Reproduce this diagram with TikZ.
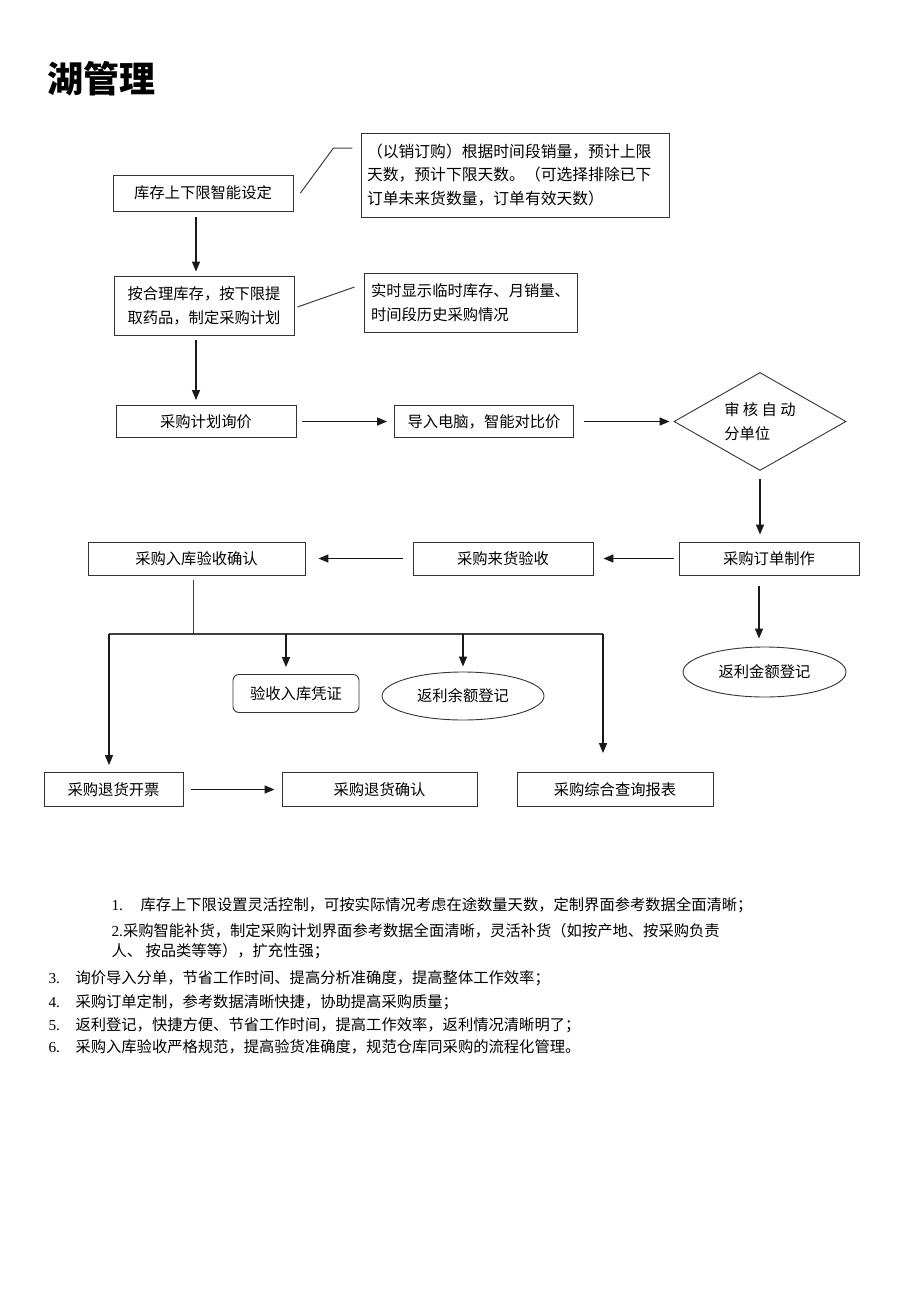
\documentclass[tikz,border=0pt]{standalone}
\usepackage{fontspec}
\setmainfont{Liberation Serif}
\newfontfamily\cjk{Noto Sans CJK SC}
\usetikzlibrary{positioning,shapes.geometric,arrows.meta}

\newcommand\cnfont{\cjk\fontsize{15.3}{24}\selectfont}
\newcommand\notefont{\cjk\fontsize{15.8}{23.5}\selectfont}
\newcommand\numfont{\fontsize{15.3}{20}\selectfont}

\begin{document}
\begin{tikzpicture}[x=1pt, y=-1pt,
	box/.style={draw=black!80, line width=0.9pt, rectangle, inner sep=0pt, align=center, font=\cnfont},
	note/.style={box, align=left},
	oval/.style={draw=black!80, line width=0.9pt, ellipse, inner sep=0pt, font=\cnfont},
	decide/.style={draw=black!80, line width=0.9pt, diamond, aspect=1.76, inner sep=0pt, align=left, font=\cnfont},
	arr/.style={-{Triangle[length=10pt,width=8pt]}, line width=1.5pt, black!90},
	link/.style={line width=1pt, black!75}]

	\fill[white] (0,0) rectangle (920,1302);
	\useasboundingbox (0,0) rectangle (920,1302);

%title
	\node[anchor=west, font=\cjk\bfseries\fontsize{36}{40}\selectfont] (title) at (44,79) {湖管理};

%upper chain
	\node[box, minimum width=180, minimum height=36] (limit) at (203,193) {库存上下限智能设定};
	\node[note, text width=296pt, inner xsep=6pt, minimum height=84, font=\notefont] (note1) at (515,175)
		{（以销订购）根据时间段销量，预计上限\\天数，预计下限天数。（可选择排除已下\\订单未来货数量，订单有效天数）};
	\node[box, minimum width=180, minimum height=59] (plan) at (204,305.5) {按合理库存，按下限提\\取药品，制定采购计划};
	\node[note, minimum width=213, minimum height=59] (note2) at (470.5,302.5) {实时显示临时库存、月销量、\\时间段历史采购情况};

	\node[box, minimum width=180, minimum height=32] (inquiry) at (206,421.5) {采购计划询价};
	\node[box, minimum width=179, minimum height=32] (compare) at (484,421.5) {导入电脑，智能对比价};
	\node[decide, minimum width=172, minimum height=98] (audit) at (760,421.5) {审 核 自 动\\分单位};

%middle row
	\node[box, minimum width=180, minimum height=33] (order) at (769,558.5) {采购订单制作};
	\node[box, minimum width=180, minimum height=33] (arrive) at (503,558.5) {采购来货验收};
	\node[box, minimum width=217, minimum height=33] (stockin) at (196.5,558.5) {采购入库验收确认};
	\node[oval, minimum width=163, minimum height=50] (rebateA) at (764.5,672) {返利金额登记};

	\node[box, rounded corners=6pt, minimum width=126, minimum height=38] (voucher) at (296,693.5) {验收入库凭证};
	\node[oval, minimum width=162, minimum height=48] (rebateB) at (463,696) {返利余额登记};

%bottom row
	\node[box, minimum width=139, minimum height=34] (refundbill) at (113.5,789.5) {采购退货开票};
	\node[box, minimum width=195, minimum height=34] (refundok) at (379.5,789.5) {采购退货确认};
	\node[box, minimum width=196, minimum height=34] (report) at (615,789.5) {采购综合查询报表};

%notes
	\draw[link] ([xshift=7pt]limit.east) -- ++(33,-45) -- ++(19,0);
	\draw[link] ([xshift=3pt,yshift=-1.5pt]plan.east) -- ([xshift=-9pt,yshift=15.5pt]note2.west);

%arrows
	\draw[arr, shorten <=6pt, shorten >=4pt] ([xshift=-7pt]limit.south) -- ([xshift=-8pt]plan.north);
	\draw[arr, shorten <=5pt, shorten >=5pt] ([xshift=-8pt]plan.south) -- ([xshift=-10pt]inquiry.north);
	\draw[arr, shorten <=6pt, shorten >=7pt] (inquiry) -- (compare);
	\draw[arr, shorten <=10pt, shorten >=4pt] (compare) -- (audit);
	\draw[arr, shorten <=8pt, shorten >=7pt] (audit.south) -- (audit.south |- order.north);
	\draw[arr, shorten <=5pt, shorten >=10pt] (order.west) -- (order.west -| arrive.east);
	\draw[arr, shorten <=10pt, shorten >=13pt] (arrive.west) -- (arrive.west -| stockin.east);
	\draw[arr, shorten <=11pt, shorten >=8pt] ([xshift=-10pt]order.south) -- ([xshift=-5.5pt]rebateA.north);

%split
	\coordinate (split) at (193,634);
	\coordinate (brL) at (109,634);
	\coordinate (brR) at (603,634);
	\draw[link, shorten <=5pt] ([xshift=-3.5pt]stockin.south) -- (split);
	\draw[link, line width=1.3pt] (brL) -- (brR);
	\draw[arr, shorten >=7pt] (brL) -- (brL |- refundbill.north);
	\draw[arr, shorten >=7pt] ([xshift=-10pt]voucher.north |- brL) -- ([xshift=-10pt]voucher.north);
	\draw[arr, shorten >=5pt] (rebateB.north |- brL) -- (rebateB.north);
	\draw[arr, shorten >=19pt] (brR) -- (brR |- report.north);
	\draw[arr, shorten <=8pt, shorten >=7pt] (refundbill) -- (refundok);

%text below
	\node[anchor=base west, font=\numfont] (num1) at (108,910.5) {1.};
	\node[anchor=base west, font=\cnfont] (item1) at (137,910.5) {库存上下限设置灵活控制，可按实际情况考虑在途数量天数，定制界面参考数据全面清晰；};
	\node[anchor=base west, font=\numfont] (item2) at (108,936.5) {2.{\cnfont 采购智能补货，制定采购计划界面参考数据全面清晰，灵活补货（如按产地、按采购负责}};
	\node[anchor=base west, font=\cnfont] (item2b) at (108,956.5) {人、 按品类等等），扩充性强；};
	\foreach \y/\k/\txt in {983.5/3/{询价导入分单，节省工作时间、提高分析准确度，提高整体工作效率；},
		1007.5/4/{采购订单定制，参考数据清晰快捷，协助提高采购质量；},
		1030.5/5/{返利登记，快捷方便、节省工作时间，提高工作效率，返利情况清晰明了；},
		1052.5/6/{采购入库验收严格规范，提高验货准确度，规范仓库同采购的流程化管理。}}{
		\node[anchor=base west, font=\numfont] (num\k) at (45,\y) {\k.};
		\node[anchor=base west, font=\cnfont] (item\k) at (72,\y) {\txt};
	}

\end{tikzpicture}
\end{document}
